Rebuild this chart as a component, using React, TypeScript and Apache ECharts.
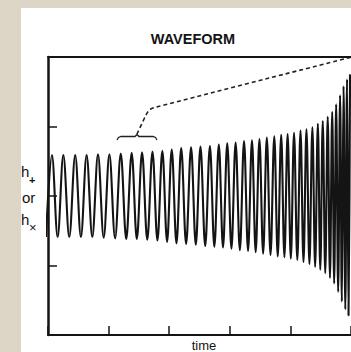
import React, { useEffect, useRef } from "react";
import * as echarts from "echarts";

// x axis (time) ticks and y axis range
const xTickValues = [0, 1, 2, 3, 4, 5];
const yRange = [-2, 2];

// successive extrema of the waveform (time, signed amplitude)
const extremaTime = [
  -0.033, 0.065, 0.159, 0.253, 0.351, 0.449, 0.543, 0.637, 0.731, 0.825,
  0.919, 1.013, 1.107, 1.201, 1.291, 1.381, 1.466, 1.552, 1.638, 1.724,
  1.806, 1.887, 1.965, 2.042, 2.12, 2.198, 2.279, 2.361, 2.439, 2.516,
  2.594, 2.672, 2.745, 2.819, 2.888, 2.958, 3.027, 3.096, 3.166, 3.235,
  3.301, 3.366, 3.427, 3.489, 3.55, 3.611, 3.672, 3.734, 3.791, 3.848,
  3.901, 3.954, 4.007, 4.06, 4.114, 4.167, 4.216, 4.265, 4.314, 4.363,
  4.408, 4.453, 4.493, 4.534, 4.575, 4.616, 4.653, 4.69, 4.722, 4.755,
  4.788, 4.82, 4.849, 4.877, 4.906, 4.935, 4.959, 4.984,
];
const extremaValue = [
  -0.59, 0.59, -0.59, 0.59, -0.59, 0.59, -0.59, 0.59, -0.59, 0.6,
  -0.6, 0.6, -0.61, 0.61, -0.62, 0.62, -0.62, 0.63, -0.63, 0.64,
  -0.64, 0.65, -0.66, 0.67, -0.68, 0.69, -0.69, 0.7, -0.7, 0.71,
  -0.72, 0.72, -0.73, 0.74, -0.74, 0.76, -0.76, 0.77, -0.78, 0.79,
  -0.79, 0.8, -0.81, 0.82, -0.83, 0.84, -0.85, 0.86, -0.87, 0.88,
  -0.88, 0.89, -0.9, 0.91, -0.92, 0.94, -0.95, 0.96, -0.98, 0.99,
  -1.02, 1.04, -1.06, 1.08, -1.11, 1.14, -1.18, 1.21, -1.26, 1.32,
  -1.38, 1.45, -1.52, 1.58, -1.63, 1.68, -1.72, 1.75,
];

const titleText = "WAVEFORM";
const xName = "time";

const FONT = "'Liberation Sans', Arial, Helvetica, sans-serif";
const INK = "#141414";

export default function App() {
  const ref = useRef<HTMLDivElement>(null);

  useEffect(() => {
    const chart = echarts.init(ref.current!, null, { renderer: "svg" });
    const data = extremaTime.map((t, i) => [t, extremaValue[i]]);
    const axisLine = { show: true, onZero: false, lineStyle: { color: INK, width: 2 } };

    chart.setOption({
      animation: false,
      backgroundColor: "transparent",
      grid: { left: 48, top: 57, width: 306, height: 278, containLabel: false },
      xAxis: [
        {
          type: "value",
          min: xTickValues[0],
          max: xTickValues[xTickValues.length - 1],
          interval: 1,
          position: "bottom",
          axisLine,
          axisTick: { show: true, inside: true, length: 9, lineStyle: { color: INK, width: 1.5 } },
          axisLabel: { show: false },
          splitLine: { show: false },
        },
        {
          type: "value",
          min: xTickValues[0],
          max: xTickValues[xTickValues.length - 1],
          position: "top",
          axisLine,
          axisTick: { show: false },
          axisLabel: { show: false },
          splitLine: { show: false },
        },
      ],
      yAxis: [
        {
          type: "value",
          min: yRange[0],
          max: yRange[1],
          interval: 1,
          axisLine: { show: true, onZero: false, lineStyle: { color: INK, width: 2.5 } },
          axisTick: { show: true, inside: true, length: 9, lineStyle: { color: INK, width: 1.5 } },
          axisLabel: { show: false },
          splitLine: { show: false },
        },
      ],
      series: [
        {
          type: "line",
          data,
          smooth: 0.36,
          smoothMonotone: "x",
          symbol: "none",
          showSymbol: false,
          clip: true,
          lineStyle: { color: INK, width: 2.1 },
          z: 3,
        },
      ],
      graphic: [
        {
          type: "text",
          x: 193,
          y: 39,
          style: { text: titleText, font: `bold 14.5px ${FONT}`, fill: INK, align: "center", verticalAlign: "middle" },
        },
        {
          type: "text",
          x: 21,
          y: 171,
          style: { text: "h", font: `15px ${FONT}`, fill: INK, align: "left", verticalAlign: "middle" },
        },
        {
          type: "text",
          x: 29,
          y: 180,
          style: { text: "+", font: `bold 11px ${FONT}`, fill: INK, align: "left", verticalAlign: "middle" },
        },
        {
          type: "text",
          x: 22,
          y: 197,
          style: { text: "or", font: `15px ${FONT}`, fill: INK, align: "left", verticalAlign: "middle" },
        },
        {
          type: "text",
          x: 21,
          y: 219,
          style: { text: "h", font: `15px ${FONT}`, fill: INK, align: "left", verticalAlign: "middle" },
        },
        {
          type: "text",
          x: 29,
          y: 227,
          style: { text: "×", font: `13px ${FONT}`, fill: INK, align: "left", verticalAlign: "middle" },
        },
        {
          type: "text",
          x: 204,
          y: 345,
          style: { text: xName, font: `13px ${FONT}`, fill: INK, align: "center", verticalAlign: "middle" },
        },
        {
          type: "polyline",
          shape: {
            points: [
              [117, 140], [118.5, 137.5], [121, 136.5], [135, 136.5], [137, 134.5],
              [139, 136.5], [153, 136.5], [155.5, 137.5], [157, 140],
            ],
          },
          style: { stroke: "#222", lineWidth: 1.3, fill: "none" },
        },
        {
          type: "polyline",
          shape: {
            points: [[137, 134], [146, 115], [149, 110.5], [153, 108], [352, 57]],
            smooth: 0.3,
          },
          style: { stroke: "#222", lineWidth: 1.6, lineDash: [4, 3], fill: "none" },
        },
      ],
    });
    return () => chart.dispose();
  }, []);

  return (
    <div style={{ position: "fixed", left: 0, top: 0, width: 351, height: 352, background: "#ddd5c6", overflow: "hidden" }}>
      <div style={{ position: "absolute", left: 21, top: 8, width: 330, height: 344, background: "#ffffff" }} />
      <div ref={ref} style={{ position: "absolute", left: 0, top: 0, width: 351, height: 352 }} />
    </div>
  );
}
